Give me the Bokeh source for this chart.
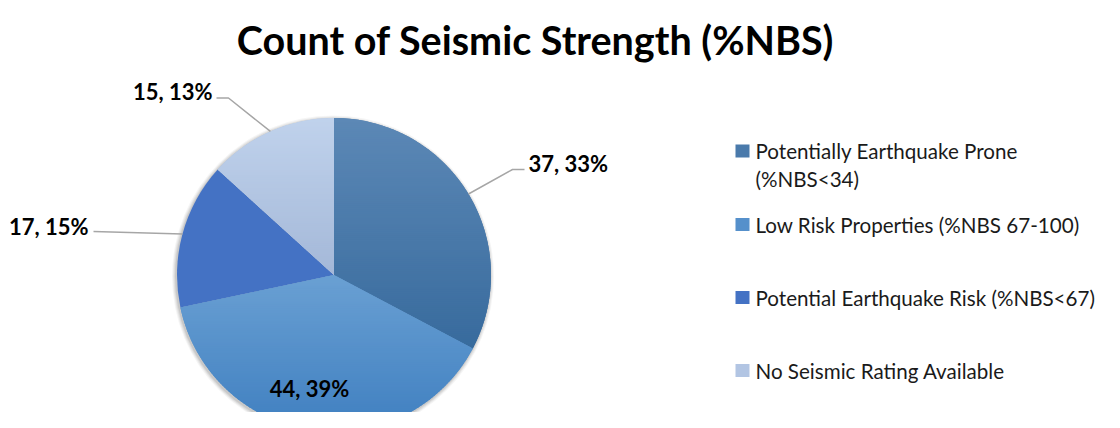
import math
from bokeh.plotting import figure
from bokeh.models import Range1d, ColumnDataSource
from bokeh.core.properties import value
from bokeh.embed import file_html
from bokeh.resources import INLINE

# ---- data ----
categories = ["Potentially Earthquake Prone\n(%NBS<34)",
              "Low Risk Properties (%NBS 67-100)",
              "Potential Earthquake Risk (%NBS<67)",
              "No Seismic Rating Available"]
counts = [37, 44, 17, 15]
percent_labels = ["33%", "39%", "15%", "13%"]
colors = ["#4a7aab", "#5590cb", "#4472c4", "#b2c5e3"]
grad_top = ["#5c88b6", "#6aa0d3", "#4472c4", "#c0d2ec"]
grad_bottom = ["#386b9d", "#3f7fc0", "#4472c4", "#a4b8d8"]
title_text = "Count of Seismic Strength (%NBS)"

W, H = 1104, 412
FONT = "Lato"

def Y(y_img):
    # image-space y (top-down) -> data y
    return 428 - y_img

p = figure(width=W, height=H, output_backend="svg", toolbar_location=None,
           x_range=Range1d(0, W), y_range=Range1d(428 - H, 428),
           min_border=0, outline_line_color=None, background_fill_color="white",
           border_fill_color="white")
p.axis.visible = False
p.grid.visible = False

cx, cy, R = 333.5, Y(274.5), 157

# soft shadow
for i, a in enumerate([0.04, 0.05, 0.06, 0.08]):
    p.circle(x=[cx - 1], y=[cy - 1.5], radius=R + 4 - i, fill_color="#000000",
             fill_alpha=a, line_color=None)

total = sum(counts)
starts, ends, mids = [], [], []
ang = math.pi / 2
for c in counts:
    sweep = c / total * 2 * math.pi
    starts.append(ang)
    ends.append(ang - sweep)
    mids.append(ang - sweep / 2)
    ang -= sweep

# base wedges (flat)
src = ColumnDataSource(dict(start=starts, end=ends, color=colors))
p.wedge(x=cx, y=cy, radius=R, start_angle="start", end_angle="end",
        direction="clock", fill_color="color", line_color=None, source=src)

# vertical gradient overlay: clip each wedge polygon into horizontal strips
def hex2rgb(h):
    h = h.lstrip("#")
    return tuple(int(h[i:i + 2], 16) for i in (0, 2, 4))

def mix(c1, c2, t):
    a, b = hex2rgb(c1), hex2rgb(c2)
    return "#%02x%02x%02x" % tuple(round(a[k] + (b[k] - a[k]) * t) for k in range(3))

def clip(poly, y0, keep_above):
    out = []
    n = len(poly)
    for k in range(n):
        P, Q = poly[k], poly[(k + 1) % n]
        pin = (P[1] >= y0) if keep_above else (P[1] <= y0)
        qin = (Q[1] >= y0) if keep_above else (Q[1] <= y0)
        if pin:
            out.append(P)
        if pin != qin:
            t = (y0 - P[1]) / (Q[1] - P[1])
            out.append((P[0] + t * (Q[0] - P[0]), y0))
    return out

xs_all, ys_all, cols_all = [], [], []
for i in range(len(counts)):
    if grad_top[i] == grad_bottom[i]:
        continue
    n = 80
    pts = [(cx, cy)] + [(cx + R * math.cos(starts[i] + (ends[i] - starts[i]) * k / n),
                         cy + R * math.sin(starts[i] + (ends[i] - starts[i]) * k / n))
                        for k in range(n + 1)]
    ymax = max(q[1] for q in pts)
    ymin = min(q[1] for q in pts)
    step = 2.0
    yb = ymax
    while yb > ymin:
        lo, hi = yb - step - 0.6, yb + 0.3
        poly = clip(clip(pts, lo, True), hi, False)
        if len(poly) >= 3:
            t = (ymax - (yb - step / 2)) / (ymax - ymin)
            xs_all.append([q[0] for q in poly])
            ys_all.append([q[1] for q in poly])
            cols_all.append(mix(grad_top[i], grad_bottom[i], max(0, min(1, t))))
        yb -= step
p.patches(xs=xs_all, ys=ys_all, fill_color=cols_all, line_color=None)

# data labels
labels = [f"{c}, {pc}" for c, pc in zip(counts, percent_labels)]

def edge(i):
    return cx + R * math.cos(mids[i]), cy + R * math.sin(mids[i])

lc = "#a6a6a6"
LBL = "22px"
ex, ey = edge(0)
p.line(x=[ex, 512, 524], y=[ey, Y(169), Y(169)], line_color=lc, line_width=1.5)
p.text(x=[528], y=[Y(163)], text=[labels[0]], text_font=value(FONT),
       text_font_style="bold", text_font_size=LBL, text_align="left",
       text_baseline="middle", text_color="black")
p.text(x=[309], y=[Y(388)], text=[labels[1]], text_font=value(FONT),
       text_font_style="bold", text_font_size=LBL, text_align="center",
       text_baseline="middle", text_color="black")
ex, ey = edge(2)
p.line(x=[ex, 93], y=[ey, Y(231)], line_color=lc, line_width=1.5)
p.text(x=[88], y=[Y(226)], text=[labels[2]], text_font=value(FONT),
       text_font_style="bold", text_font_size=LBL, text_align="right",
       text_baseline="middle", text_color="black")
ex, ey = edge(3)
p.line(x=[ex, 228, 216], y=[ey, Y(97.5), Y(97.5)], line_color=lc, line_width=1.5)
p.text(x=[212], y=[Y(91)], text=[labels[3]], text_font=value(FONT),
       text_font_style="bold", text_font_size=LBL, text_align="right",
       text_baseline="middle", text_color="black")

# title
p.text(x=[535], y=[Y(39)], text=[title_text], text_font=value(FONT),
       text_font_style="bold", text_font_size="39.5px", text_align="center",
       text_baseline="middle", text_color="black")

# legend
leg_y = [150.5, 224, 297, 370]
line_px = 28
p.rect(x=[742] * 4, y=[Y(v) for v in leg_y], width=14, height=13,
       fill_color=colors, line_color=None)
text_y = [Y(v + (c.count("\n")) * line_px / 2) for v, c in zip(leg_y, categories)]
p.text(x=[755] * 4, y=text_y, text=categories,
       text_font=value(FONT), text_font_size="20.6px", text_align="left",
       text_baseline="middle", text_color="#1a1a1a", text_line_height=1.2)

open("out.html", "w").write(file_html(p, INLINE))
